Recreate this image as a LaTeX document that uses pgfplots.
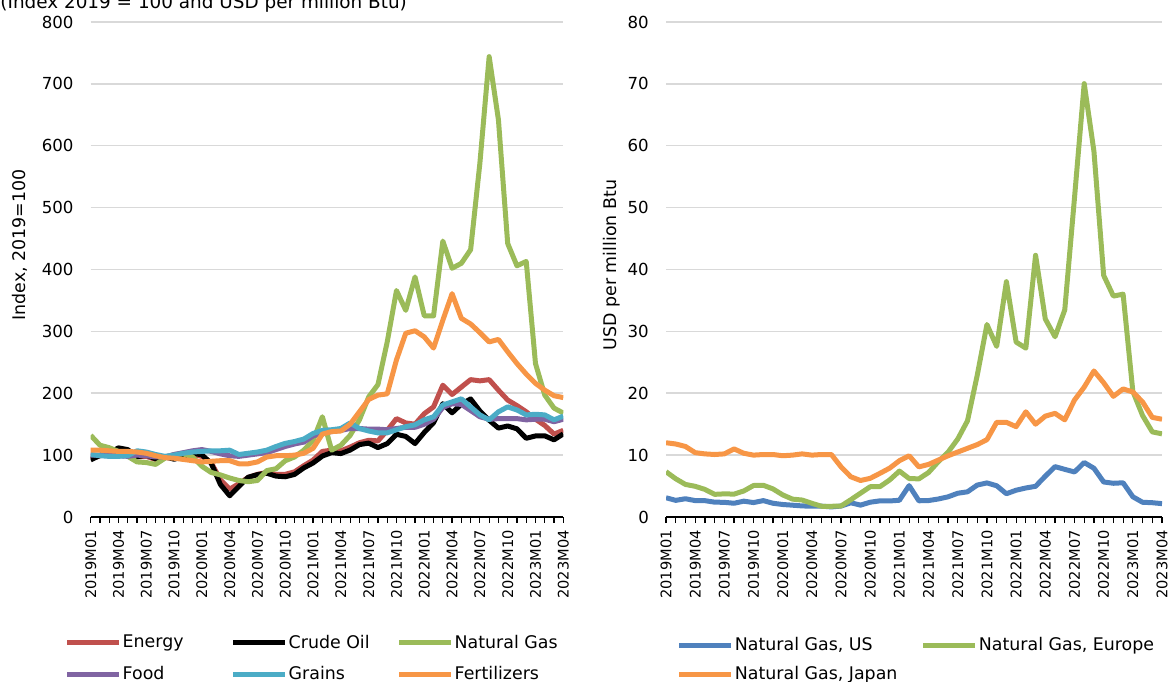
\documentclass[border=0pt]{standalone}
\usepackage{fontspec}
\setmainfont{DejaVu Sans}
\usepackage{pgfplots}
\pgfplotsset{compat=1.18}
\usepackage{pgfplotstable}

\definecolor{cEnergy}{HTML}{C0504D}
\definecolor{cGas}{HTML}{9BBB59}
\definecolor{cFood}{HTML}{8064A2}
\definecolor{cGrains}{HTML}{4BACC6}
\definecolor{cFert}{HTML}{F79646}
\definecolor{cUS}{HTML}{4F81BD}
\definecolor{cGrid}{HTML}{D9D9D9}

\pgfplotstableread{
i energy crude gas food grains fert
0 94 92.2 132 100 101 108
1 99 99.6 116 100 99 108
2 102 103.9 112 99 98 107
3 108 111.7 106 99 98 106
4 106 108.9 98 98 99 106
5 97 97.3 89 100 107 105
6 98 100.1 88 99 105 103
7 93 93.9 85 97 101 99
8 96 97.8 95 97 98 96
9 95 93.3 101 101 100 95
10 98 98.4 102 104 103 93
11 101 103.0 97 107 105 91
12 98 100.4 82 109 106 89
13 88 86.9 72 106 107 90
14 60 52.5 68 102 107 91
15 45 34.3 63 99 108 91
16 54 49.5 59 98 101 86
17 64 64.3 57 100 103 86
18 69 68.5 59 102 105 89
19 72 70.8 75 104 108 97
20 69 66.1 78 109 114 99
21 69 65.0 91 114 119 99
22 73 68.8 97 118 122 100
23 83 79.4 108 121 126 103
24 92 87.3 124 131 135 111
25 106 98.5 162 136 140 134
26 108 104.0 108 138 141 138
27 107 102.5 116 140 143 139
28 113 108.2 132 143 152 150
29 120 117.0 157 143 143 170
30 124 119.4 194 142 139 190
31 123 112.2 214 142 136 197
32 140 118.6 283 141 136 199
33 159 133.7 366 143 141 254
34 152 130.2 334 145 146 297
35 150 118.7 388 145 149 301
36 167 136.7 325 150 157 291
37 178 152.4 325 158 162 273
38 213 183.1 446 177 181 318
39 198 168.4 402 183 186 361
40 210 182.4 410 182 191 321
41 222 190.8 432 172 178 312
42 220 171.3 572 162 165 298
43 222 156.3 744 158 157 283
44 205 143.7 642 159 170 287
45 189 147.1 442 159 178 267
46 180 142.5 406 159 173 248
47 170 127.2 413 157 165 231
48 158 131.0 248 158 166 216
49 148 131.2 197 158 165 205
50 134 124.7 176 154 157 196
51 140 134.3 168 158 163 193
}\lefttable

\pgfplotstableread{
i us eu jp
0 3.11 7.32 12.0
1 2.69 6.18 11.8
2 2.95 5.26 11.4
3 2.65 4.96 10.4
4 2.64 4.46 10.2
5 2.40 3.66 10.1
6 2.37 3.74 10.2
7 2.22 3.70 11.0
8 2.56 4.21 10.3
9 2.33 5.09 10.0
10 2.65 5.13 10.1
11 2.22 4.54 10.1
12 2.02 3.57 9.9
13 1.91 2.89 10.0
14 1.79 2.74 10.2
15 1.74 2.21 10.0
16 1.75 1.73 10.1
17 1.63 1.73 10.1
18 1.77 1.78 8.1
19 2.30 2.79 6.5
20 1.92 3.85 5.9
21 2.39 4.89 6.25
22 2.61 4.91 7.06
23 2.59 5.99 7.9
24 2.71 7.42 9.1
25 5.07 6.22 9.9
26 2.62 6.16 8.1
27 2.66 7.20 8.5
28 2.91 8.94 9.2
29 3.26 10.47 9.9
30 3.84 12.61 10.5
31 4.07 15.55 11.1
32 5.16 22.90 11.7
33 5.51 31.11 12.5
34 5.05 27.57 15.3
35 3.76 38.03 15.3
36 4.33 28.27 14.6
37 4.69 27.29 17.0
38 4.96 42.30 15.0
39 6.60 32.00 16.3
40 8.14 29.13 16.75
41 7.70 33.47 15.7
42 7.28 51.55 18.9
43 8.80 70.04 21.0
44 7.88 59.11 23.6
45 5.66 39.05 21.7
46 5.45 35.70 19.5
47 5.53 36.02 20.7
48 3.27 20.31 20.2
49 2.38 16.40 18.6
50 2.31 13.76 16.1
51 2.16 13.44 15.8
}\righttable

\pgfplotsset{
  mystyle/.style={
    scale only axis,
    xmin=0, xmax=51, ymin=0,
    axis x line*=bottom, axis y line*=left,
    y axis line style={draw=none},
    x axis line style={black, line width=0.6bp},
    xtick={0,3,...,51}, minor x tick num=2,
    xticklabels={2019M01,2019M04,2019M07,2019M10,2020M01,2020M04,2020M07,2020M10,2021M01,2021M04,2021M07,2021M10,2022M01,2022M04,2022M07,2022M10,2023M01,2023M04},
    tick align=outside,
    major tick length=3bp, minor tick length=3bp,
    xtick style={black, line width=0.6bp},
    ytick style={draw=none},
    ymajorgrids, grid style={draw=cGrid, line width=0.75bp},
    xticklabel style={font=\fontsize{7.3bp}{8bp}\selectfont},
    yticklabel style={font=\fontsize{8.3bp}{9bp}\selectfont},
    /pgf/number format/assume math mode=true,
    xticklabel shift=3.5bp,
    yticklabel shift=5.4bp,
    xticklabel style={rotate=90, anchor=east, inner sep=0pt},
    yticklabel style={anchor=east, inner sep=0pt},
    legend cell align=left,
    legend image code/.code={\draw[#1, line width=2.5bp] (0bp,0bp) -- (26bp,0bp);},
    every axis plot/.append style={line width=2.5bp, line join=round, mark=none},
  }
}

\begin{document}
\begin{tikzpicture}
\useasboundingbox (0,0) rectangle (584bp,341bp);
\node[anchor=base west, inner sep=0pt, font=\fontsize{9.2bp}{11bp}\selectfont] at (0bp,336.5bp) {(Index 2019 = 100 and USD per million Btu)};
\node[rotate=90, inner sep=0pt, font=\fontsize{8.7bp}{10bp}\selectfont] at (10bp,218.5bp) {Index, 2019=100};
\node[rotate=90, inner sep=0pt, font=\fontsize{8.7bp}{10bp}\selectfont] at (306bp,208.5bp) {USD per million Btu};

\begin{axis}[mystyle,
  at={(45.35bp,82.5bp)}, anchor=south west,
  width=236.3bp, height=247.5bp,
  ymax=800, ytick={0,100,...,800},
  legend columns=3,
  legend style={draw=none, fill=none, at={(axis description cs:-0.055,-0.238)}, anchor=north west,
    font=\fontsize{8.7bp}{10bp}\selectfont, inner sep=0pt, outer sep=0pt, row sep=7.5bp,
    nodes={inner sep=0pt, anchor=west},
    /tikz/every odd column/.append style={column sep=0.5bp},
    /tikz/every even column/.append style={column sep=6bp}},
]
\addplot[color=cEnergy] table[x=i, y=energy] {\lefttable};
\addlegendentry{\makebox[48bp][l]{Energy}}
\addplot[color=black] table[x=i, y=crude] {\lefttable};
\addlegendentry{\makebox[48bp][l]{Crude Oil}}
\addplot[color=cGas] table[x=i, y=gas] {\lefttable};
\addlegendentry{\makebox[48bp][l]{Natural Gas}}
\addplot[color=cFood] table[x=i, y=food] {\lefttable};
\addlegendentry{\makebox[48bp][l]{Food}}
\addplot[color=cGrains] table[x=i, y=grains] {\lefttable};
\addlegendentry{\makebox[48bp][l]{Grains}}
\addplot[color=cFert] table[x=i, y=fert] {\lefttable};
\addlegendentry{\makebox[48bp][l]{Fertilizers}}
\end{axis}

\begin{axis}[mystyle,
  at={(333bp,82.5bp)}, anchor=south west,
  width=248bp, height=247.5bp,
  ymax=80, ytick={0,10,...,80},
  legend columns=2,
  legend style={draw=none, fill=none, at={(axis description cs:0.022,-0.2424)}, anchor=north west,
    font=\fontsize{8.7bp}{10bp}\selectfont, inner sep=0pt, outer sep=0pt, row sep=6.5bp,
    nodes={inner sep=0pt, anchor=west},
    /tikz/every odd column/.append style={column sep=0.5bp},
    /tikz/every even column/.append style={column sep=7bp}},
]
\addplot[color=cUS] table[x=i, y=us] {\righttable};
\addlegendentry{\makebox[86bp][l]{Natural Gas, US}}
\addplot[color=cGas] table[x=i, y=eu] {\righttable};
\addlegendentry{\makebox[86bp][l]{Natural Gas, Europe}}
\addplot[color=cFert] table[x=i, y=jp] {\righttable};
\addlegendentry{\makebox[86bp][l]{Natural Gas, Japan}}
\end{axis}
\end{tikzpicture}
\end{document}
